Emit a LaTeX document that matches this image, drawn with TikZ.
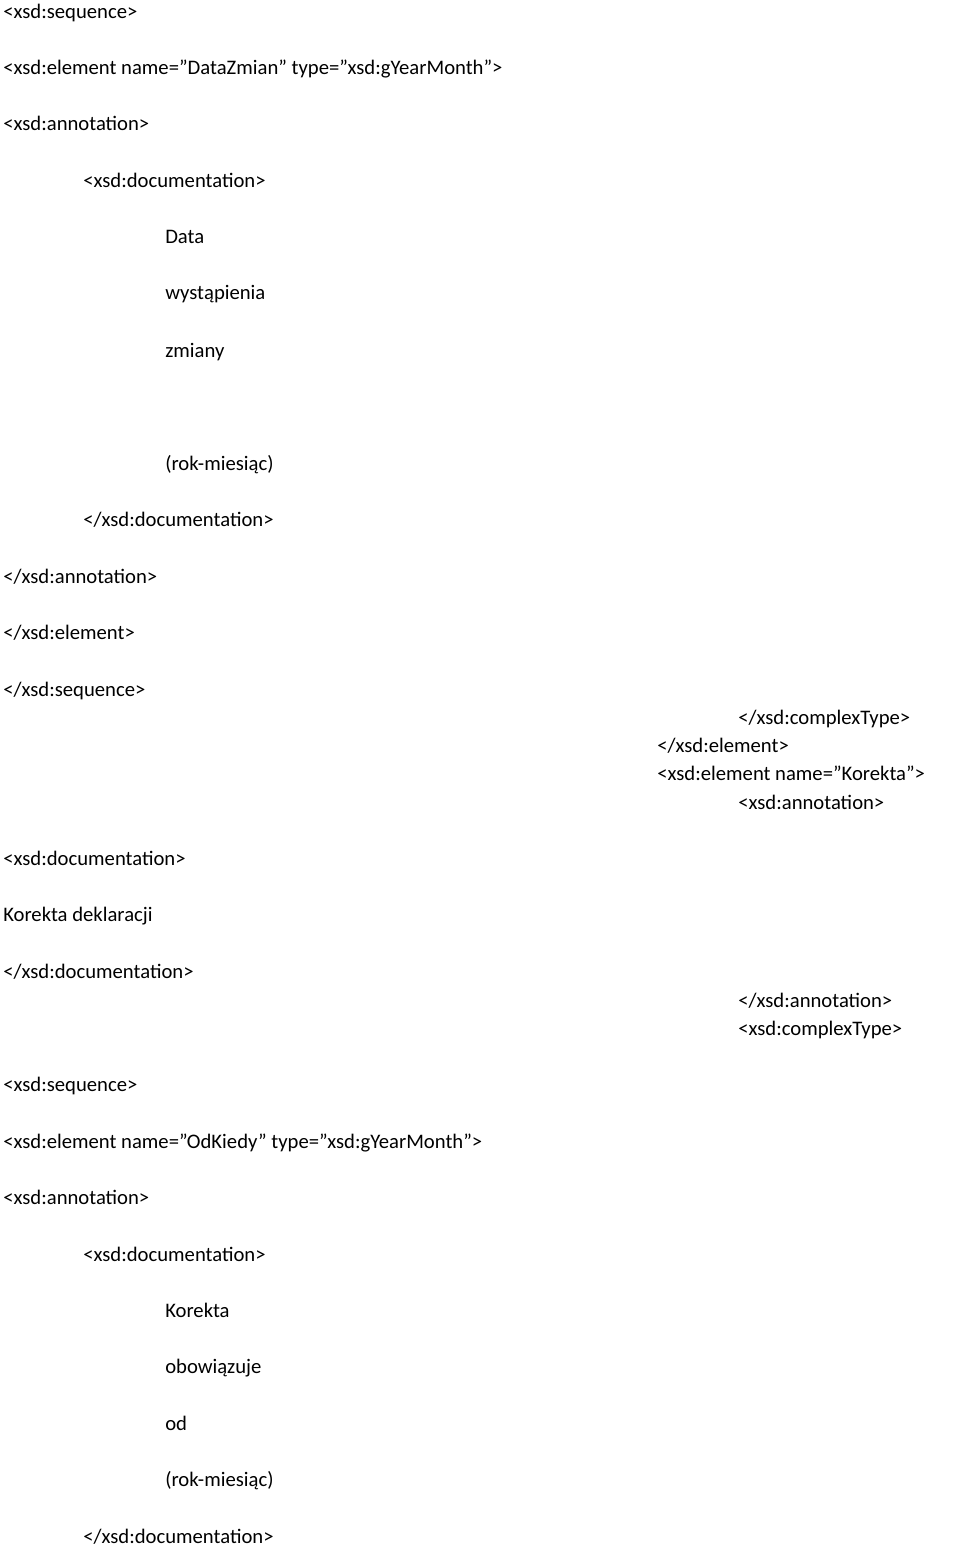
\documentclass[tikz,border=0pt]{standalone}
\usepackage{fontspec}
\setmainfont{Carlito}
\tikzset{
  xmlline/.style={anchor=base west, inner sep=0pt, font=\fontsize{15.5}{18}\selectfont}, % one line of the listing
}
\begin{document}
\begin{tikzpicture}[x=0.75pt, y=-0.75pt]
  \useasboundingbox (0,0) rectangle (960,1551);
  \node[xmlline] (seq1) at (3,19) {<xsd:sequence>};
  \node[xmlline] (el1) at (3,75) {<xsd:element name="DataZmian" type="xsd:gYearMonth">};
  \node[xmlline] (ann1) at (3,131) {<xsd:annotation>};
  \node[xmlline] (doc1) at (83,188) {<xsd:documentation>};
  \node[xmlline] (t1a) at (165,244) {Data};
  \node[xmlline] (t1b) at (165,300) {wystąpienia};
  \node[xmlline] (t1c) at (165,357) {zmiany};
  \node[xmlline] (t1d) at (165,470) {(rok-miesiąc)};
  \node[xmlline] (edoc1) at (83,526) {</xsd:documentation>};
  \node[xmlline] (eann1) at (3,583) {</xsd:annotation>};
  \node[xmlline] (eel1) at (3,639) {</xsd:element>};
  \node[xmlline] (eseq1) at (3,696) {</xsd:sequence>};
  \node[xmlline] (ect) at (738,724) {</xsd:complexType>};
  \node[xmlline] (eel2) at (657,752) {</xsd:element>};
  \node[xmlline] (el3) at (657,780) {<xsd:element name="Korekta">};
  \node[xmlline] (ann3) at (738,809) {<xsd:annotation>};
  \node[xmlline] (doc3) at (3,865) {<xsd:documentation>};
  \node[xmlline] (t3) at (3,921) {Korekta deklaracji};
  \node[xmlline] (edoc3) at (3,978) {</xsd:documentation>};
  \node[xmlline] (eann3) at (738,1007) {</xsd:annotation>};
  \node[xmlline] (ct3) at (738,1035) {<xsd:complexType>};
  \node[xmlline] (seq4) at (3,1091) {<xsd:sequence>};
  \node[xmlline] (el4) at (3,1148) {<xsd:element name="OdKiedy" type="xsd:gYearMonth">};
  \node[xmlline] (ann4) at (3,1204) {<xsd:annotation>};
  \node[xmlline] (doc4) at (83,1261) {<xsd:documentation>};
  \node[xmlline] (t4a) at (165,1317) {Korekta};
  \node[xmlline] (t4b) at (165,1373) {obowiązuje};
  \node[xmlline] (t4c) at (165,1430) {od};
  \node[xmlline] (t4d) at (165,1486) {(rok-miesiąc)};
  \node[xmlline] (edoc4) at (83,1543) {</xsd:documentation>};
\end{tikzpicture}
\end{document}
